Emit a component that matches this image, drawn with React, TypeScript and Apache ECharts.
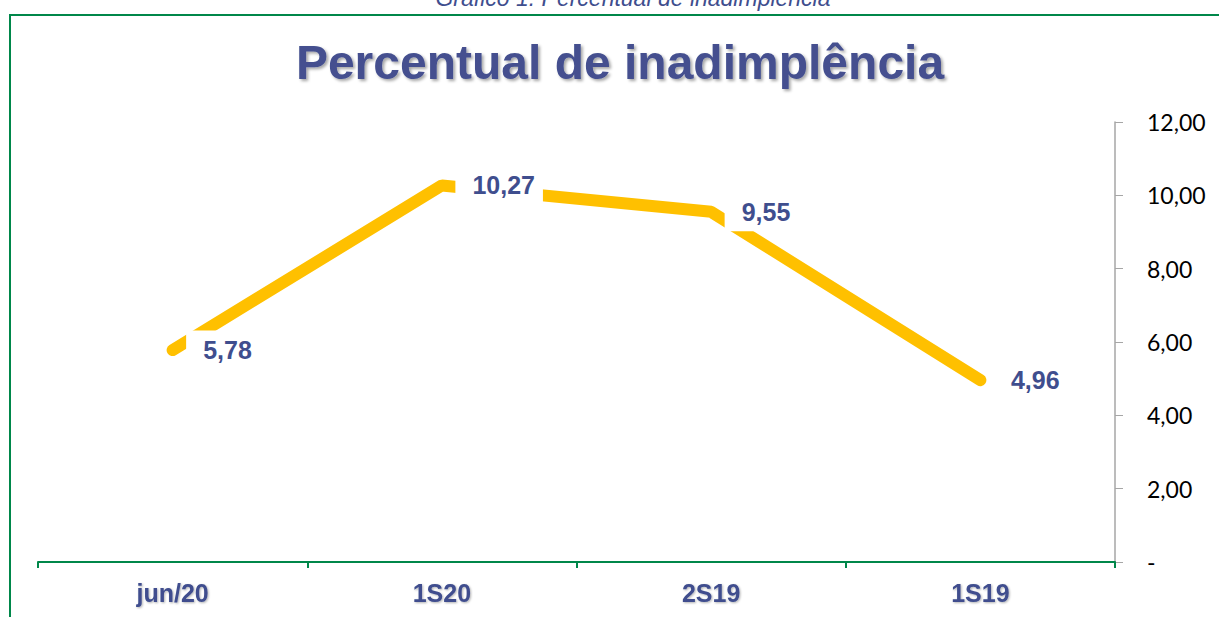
import React, { useEffect, useRef } from "react";
import * as echarts from "echarts";

const categories = ["jun/20", "1S20", "2S19", "1S19"];
const values = [5.78, 10.27, 9.55, 4.96];
const yMin = 0;
const yMax = 12;
const yInterval = 2;

const blue = "#3F4E8E";
const green = "#00874A";

export default function App() {
  const ref = useRef<HTMLDivElement>(null);
  useEffect(() => {
    if (!ref.current) return;
    const chart = echarts.init(ref.current, null, { renderer: "svg" });
    chart.setOption({
      animation: false,
      backgroundColor: "#ffffff",
      graphic: [
        {
          type: "rect",
          shape: { x: 10, y: 15, width: 1400, height: 800 },
          style: { fill: "none", stroke: green, lineWidth: 2 },
          silent: true,
        },
        {
          type: "text",
          x: 633,
          y: -14,
          style: {
            text: "Gráfico 1: Percentual de inadimplência",
            fontSize: 23,
            fontStyle: "italic",
            fontFamily: "Liberation Sans, Arial, sans-serif",
            fill: blue,
            align: "center",
            verticalAlign: "top",
          },
        },
        {
          type: "text",
          x: 620,
          y: 62,
          style: {
            text: "Percentual de inadimplência",
            fontSize: 48,
            fontWeight: "bold",
            fontFamily: "Liberation Sans, Arial, sans-serif",
            fill: "#44508F",
            align: "center",
            verticalAlign: "middle",
            textShadowColor: "rgba(0,0,0,0.35)",
            textShadowBlur: 3,
            textShadowOffsetX: 2,
            textShadowOffsetY: 2,
          },
        },
      ],
      grid: { left: 38, right: 104, top: 122, bottom: 55 },
      xAxis: {
        type: "category",
        data: categories,
        boundaryGap: true,
        axisLine: { show: true, lineStyle: { color: green, width: 2 } },
        axisTick: { show: true, length: 6, lineStyle: { color: green, width: 2 } },
        axisLabel: {
          margin: 18,
          fontSize: 25,
          fontWeight: "bold",
          fontFamily: "Liberation Sans, Arial, sans-serif",
          color: blue,
          textShadowColor: "rgba(0,0,0,0.3)",
          textShadowBlur: 2,
          textShadowOffsetX: 1,
          textShadowOffsetY: 1,
        },
        splitLine: { show: false },
      },
      yAxis: {
        type: "value",
        position: "right",
        min: yMin,
        max: yMax,
        interval: yInterval,
        axisLine: { show: true, lineStyle: { color: "#A6A6A6", width: 1.5 } },
        axisTick: { show: true, length: 8, lineStyle: { color: "#A6A6A6", width: 1 } },
        splitLine: { show: false },
        axisLabel: {
          margin: 32,
          fontSize: 23,
          fontFamily: "Lato, Open Sans, sans-serif",
          color: "#000000",
          formatter: (v: number) => (v === 0 ? "-" : v.toFixed(2).replace(".", ",")),
        },
      },
      series: [
        {
          type: "line",
          data: values,
          symbol: "circle",
          symbolSize: 1,
          showSymbol: true,
          itemStyle: { color: "#FFC000" },
          lineStyle: { color: "#FFC000", width: 12, cap: "round", join: "bevel" },
          label: {
            show: true,
            position: "right",
            distance: 13,
            padding: [7, 8, 7, 17],
            backgroundColor: "#ffffff",
            fontSize: 25,
            fontWeight: "bold",
            fontFamily: "Liberation Sans, Arial, sans-serif",
            color: blue,
            formatter: (p: any) => p.value.toFixed(2).replace(".", ","),
          },
          z: 3,
        },
      ],
    });
    return () => chart.dispose();
  }, []);
  return (
    <div
      ref={ref}
      style={{ position: "fixed", left: 0, top: 0, width: 1219, height: 617 }}
    />
  );
}
